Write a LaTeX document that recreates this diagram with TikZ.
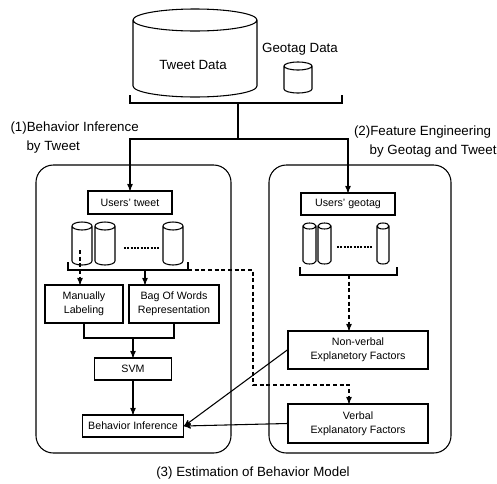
\documentclass[tikz,border=0pt]{standalone}
\usepackage{fontspec}
\setmainfont{Liberation Sans}
\usetikzlibrary{arrows}
\usetikzlibrary{positioning}

\begin{document}
\begin{tikzpicture}[x=0.75pt,y=-0.75pt,line width=0.8pt,>=stealth',
  box/.style={draw,line width=1.1pt,align=center,inner sep=1pt,font=\fontsize{8}{10.5}\selectfont},
  title/.style={inner sep=0pt,font=\fontsize{10}{14}\selectfont},
  flowdash/.style={dash pattern=on 3pt off 2pt},
  dotline/.style={dash pattern=on 1.5pt off 1pt,line width=1pt}]
\useasboundingbox (0,0) rectangle (497,483);
\foreach \cx/\rx/\ty/\by/\ry in {195/62/20/86/11, 298/14/66/89/4,
  82/10/226/261/4, 105/10/226/261/4, 173/10/226/261/4,
  309.5/6.5/226/261/3, 324.5/6.5/226/261/3, 383/6/226/261/3}
  \draw (\cx-\rx,\by) -- (\cx-\rx,\ty) (\cx+\rx,\ty) -- (\cx+\rx,\by)
    arc[start angle=0,end angle=180,x radius=\rx,y radius=\ry]
    (\cx,\ty) ellipse[x radius=\rx,y radius=\ry];
\node[title] (tweetdata) at (193,65) {Tweet Data};
\node[title] (geodata) at (300,49) {Geotag Data};
\node[title,align=left,anchor=west] (titleone) at (10,137.5) {(1)Behavior Inference\\\hspace*{12pt}by Tweet};
\node[title,align=right,anchor=east] (titletwo) at (497,141.5) {(2)Feature Engineering\kern4pt\\by Geotag and Tweet};
\node[title] (caption) at (253,473) {(3) Estimation of Behavior Model};
\draw[rounded corners=13pt] (36,165) rectangle (231,453);
\draw[rounded corners=13pt] (269,165) rectangle (451,453);
\node[box,minimum width=63pt,minimum height=17.25pt] (utweet) at (130,202.5) {Users' tweet};
\node[box,minimum width=70.5pt,minimum height=16.5pt] (ugeo) at (348,204) {Users' geotag};
\node[box,minimum width=58.5pt,minimum height=28.5pt] (manual) at (84,304) {Manually\\Labeling};
\node[box,minimum width=67.5pt,minimum height=28.5pt] (bow) at (174,304) {Bag Of Words\\Representation};
\node[box,minimum width=57.75pt,minimum height=16.5pt] (svm) at (133,369) {SVM};
\node[box,minimum width=75.75pt,minimum height=16.5pt] (binf) at (133,426) {Behavior Inference};
\node[box,minimum width=105pt,minimum height=28.5pt] (nonverbal) at (358,350) {Non-verbal\\Explanetory Factors};
\node[box,minimum width=105pt,minimum height=29.25pt] (verbal) at (358,423.5) {Verbal\\Explanatory Factors};
\coordinate (dbl) at (130,95);
\coordinate (dbr) at (342,95);
\coordinate (dbmid) at (238,103);
\coordinate (split) at (238,139);
\draw (dbl) -- ++(0,8) -| (dbr);
\draw (dbmid) -- (split);
\draw[->] (split) -| (utweet.north);
\draw[->] (split) -| (ugeo.north);
\draw[dotline] (124,248) -- (159,248);
\draw[dotline] (337,247) -- (372,247);
\coordinate (tbl) at (68,262);
\coordinate (tbr) at (188,262);
\coordinate (tbrb) at (188,270);
\coordinate (lab) at (80,250);
\coordinate (bowin) at (145,270);
\coordinate (dturn) at (253,385);
\draw (tbl) -- ++(0,8) -| (tbr);
\draw[flowdash,->] (lab) -- (lab |- manual.north);
\draw[->] (bowin) -- (bowin |- bow.north);
\draw[flowdash,->] (tbrb) -| (dturn) -| (verbal.north -| 349,0);
\coordinate (gbl) at (300,267);
\coordinate (gbr) at (397,267);
\coordinate (gbrk) at (349,275);
\draw (gbl) -- ++(0,8) -| (gbr);
\draw[flowdash,->] (gbrk) -- (gbrk |- nonverbal.north);
\coordinate (join) at (133,338);
\draw (manual.south) |- (join) -| (bow.south);
\draw[->] (join) -- (svm.north);
\draw[->] (svm) -- (binf);
\draw[->] (nonverbal.west) -- (binf.east);
\draw[->] (verbal.west) -- (binf.east);
\end{tikzpicture}
\end{document}
